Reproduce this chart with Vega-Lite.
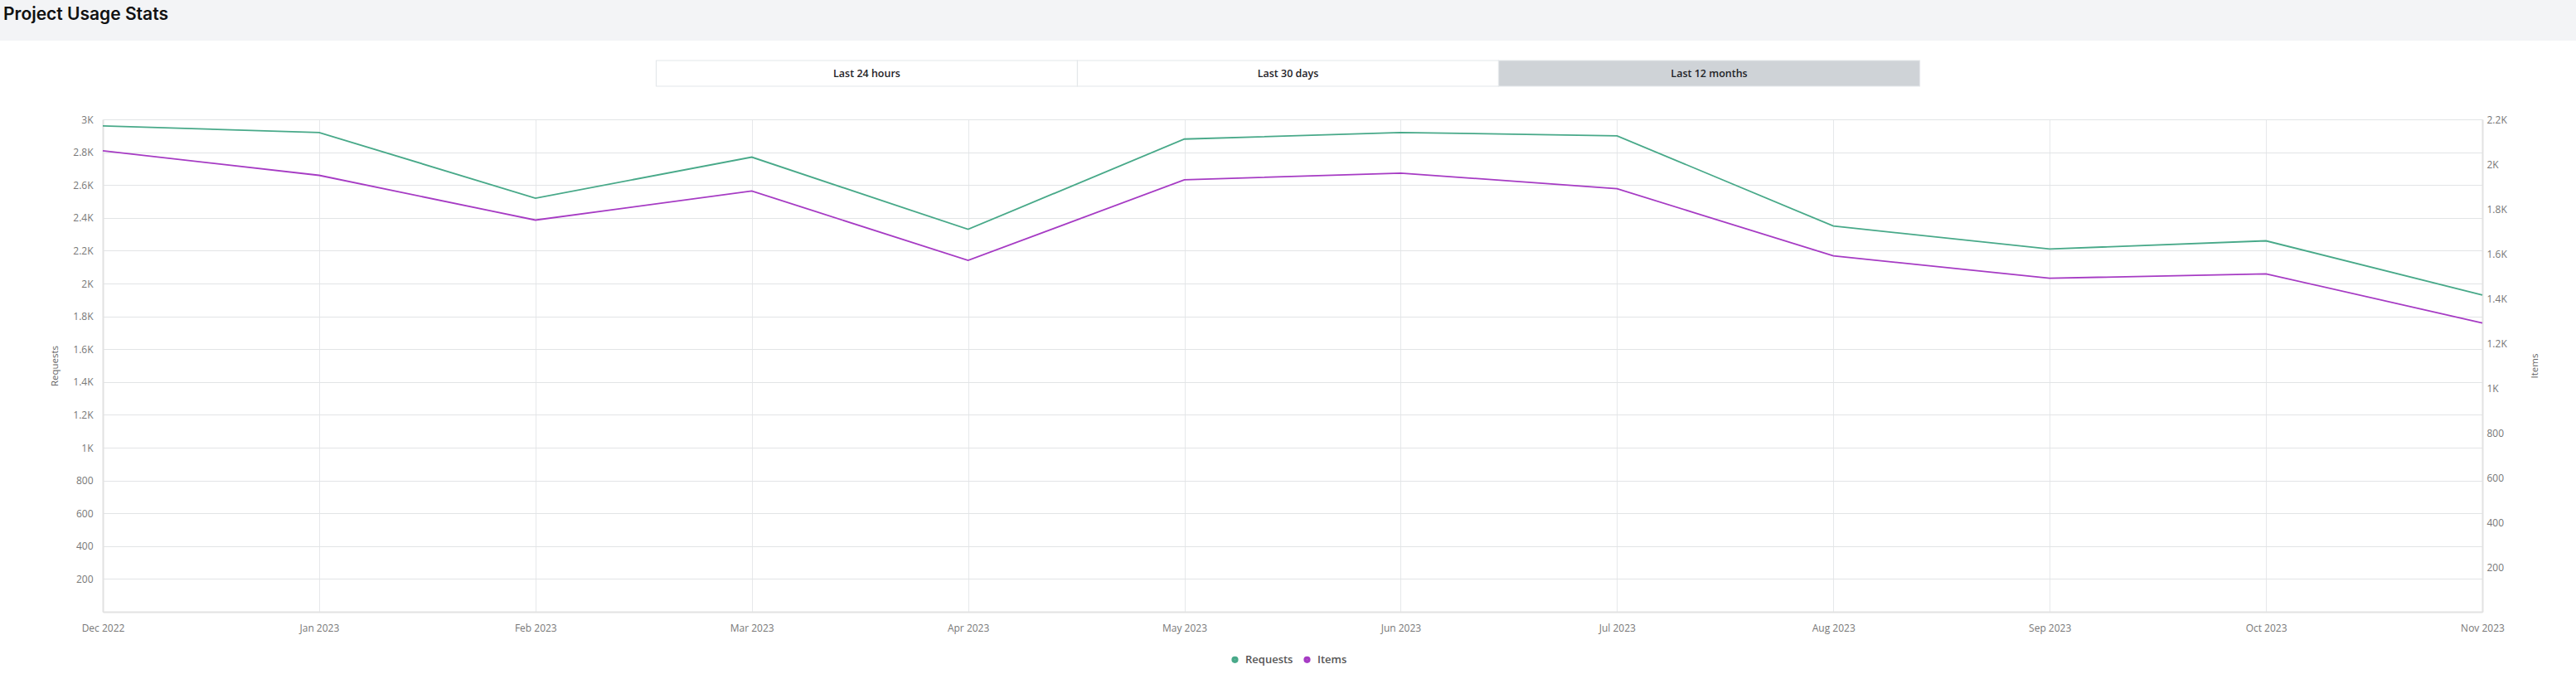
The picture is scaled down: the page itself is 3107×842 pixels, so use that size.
{
  "$schema": "https://vega.github.io/schema/vega-lite/v6.json",
  "background": "white",
  "padding": 0,
  "spacing": 0,
  "config": {
    "font": "Open Sans",
    "view": {"stroke": null},
    "concat": {"spacing": 0}
  },
  "vconcat": [
    {
      "width": 3107,
      "height": 49,
      "view": {"fill": "#f3f4f6", "stroke": null},
      "data": {"values": [{"title": "Project Usage Stats", "pos": 0}]},
      "mark": {"type": "text", "align": "left", "baseline": "alphabetic", "font": "Inter", "fontSize": 21, "fontWeight": 600, "color": "#111111", "dx": 4, "dy": -1},
      "encoding": {
        "x": {"field": "pos", "type": "quantitative", "scale": {"domain": [0, 1]}, "axis": null},
        "text": {"field": "title"}
      }
    },
    {
      "width": 3107,
      "height": 89,
      "data": {"values": [
        {"label": "Last 24 hours", "sel": "no", "row": "r"},
        {"label": "Last 30 days", "sel": "no", "row": "r"},
        {"label": "Last 12 months", "sel": "yes", "row": "r"}
      ]},
      "encoding": {
        "x": {"field": "label", "type": "nominal", "sort": null, "scale": {"type": "band", "domain": ["pad1", "Last 24 hours", "Last 30 days", "Last 12 months", "pad2"], "paddingInner": 0, "paddingOuter": 0.558}, "axis": null},
        "y": {"field": "row", "type": "nominal", "scale": {"type": "band", "paddingInner": 0, "paddingOuter": 0.935, "align": 0.414}, "axis": null}
      },
      "layer": [
        {
          "mark": {"type": "rect", "stroke": "#e4e7ea", "strokeWidth": 1.2},
          "encoding": {
            "fill": {"field": "sel", "type": "nominal", "scale": {"domain": ["no", "yes"], "range": ["#ffffff", "#cfd3d7"]}, "legend": null}
          }
        },
        {
          "mark": {"type": "text", "fontSize": 12.5, "fontWeight": 600, "color": "#1f2328"},
          "encoding": {"text": {"field": "label"}}
        }
      ]
    },
    {
      "hconcat": [
        {
          "width": 60,
          "height": 10,
          "data": {"values": []},
          "mark": "point"
        },
        {
          "width": 2870,
          "height": 594,
          "data": {"values": [
            {"month": "Dec 2022", "Requests": 2960, "Items": 2060},
            {"month": "Jan 2023", "Requests": 2920, "Items": 1950},
            {"month": "Feb 2023", "Requests": 2520, "Items": 1750},
            {"month": "Mar 2023", "Requests": 2770, "Items": 1880},
            {"month": "Apr 2023", "Requests": 2330, "Items": 1570},
            {"month": "May 2023", "Requests": 2880, "Items": 1930},
            {"month": "Jun 2023", "Requests": 2920, "Items": 1960},
            {"month": "Jul 2023", "Requests": 2900, "Items": 1890},
            {"month": "Aug 2023", "Requests": 2350, "Items": 1590},
            {"month": "Sep 2023", "Requests": 2210, "Items": 1490},
            {"month": "Oct 2023", "Requests": 2260, "Items": 1510},
            {"month": "Nov 2023", "Requests": 1930, "Items": 1290}
          ]},
          "encoding": {
            "x": {
              "field": "month", "type": "ordinal", "sort": null,
              "scale": {"type": "point", "padding": 0},
              "title": null,
              "axis": {
                "labelAngle": 0, "labelFontSize": 12, "labelColor": "#777777", "labelPadding": 14,
                "ticks": false, "domainColor": "#e2e2e2", "domainWidth": 2,
                "grid": true, "gridColor": "#e6e8ea", "gridWidth": 1
              }
            }
          },
          "layer": [
            {
              "mark": {"type": "line", "strokeWidth": 1.8},
              "encoding": {
                "y": {
                  "field": "Requests", "type": "quantitative",
                  "scale": {"domain": [0, 3000], "nice": false},
                  "title": "Requests",
                  "axis": {
                    "orient": "left",
                    "values": [0, 200, 400, 600, 800, 1000, 1200, 1400, 1600, 1800, 2000, 2200, 2400, 2600, 2800, 3000],
                    "labelExpr": "datum.value == 0 ? '' : (datum.value >= 1000 ? format(datum.value / 1000, '.1~f') + 'K' : format(datum.value, 'd'))",
                    "labelFontSize": 12, "labelColor": "#777777", "labelPadding": 12,
                    "ticks": false, "domainColor": "#e2e2e2", "domainWidth": 2,
                    "grid": true, "gridColor": "#e2e4e6", "gridWidth": 1.2,
                    "titleFontSize": 11.5, "titleFontWeight": "normal", "titleColor": "#666666", "titlePadding": 16
                  }
                },
                "color": {
                  "datum": "Requests", "type": "nominal",
                  "scale": {"domain": ["Requests", "Items"], "range": ["#48a989", "#a63bc4"]},
                  "legend": {
                    "orient": "none", "legendX": 1483, "legendY": 789, "direction": "horizontal", "title": null,
                    "symbolType": "circle", "symbolSize": 14, "symbolStrokeWidth": 4.5,
                    "labelFontSize": 13, "labelFontWeight": 600, "labelColor": "#555555",
                    "columnPadding": 5, "symbolOffset": 0, "labelOffset": 6
                  }
                }
              }
            },
            {
              "mark": {"type": "line", "strokeWidth": 1.8},
              "encoding": {
                "y": {
                  "field": "Items", "type": "quantitative",
                  "scale": {"domain": [0, 2200], "nice": false},
                  "title": "Items",
                  "axis": {
                    "orient": "right",
                    "values": [0, 200, 400, 600, 800, 1000, 1200, 1400, 1600, 1800, 2000, 2200],
                    "labelExpr": "datum.value == 0 ? '' : (datum.value >= 1000 ? format(datum.value / 1000, '.1~f') + 'K' : format(datum.value, 'd'))",
                    "labelFontSize": 12, "labelColor": "#777777", "labelPadding": 5,
                    "ticks": false, "domainColor": "#e2e2e2", "domainWidth": 2,
                    "grid": false,
                    "titleAngle": 270, "titleBaseline": "top",
                    "titleFontSize": 11.5, "titleFontWeight": "normal", "titleColor": "#666666", "titlePadding": 28
                  }
                },
                "color": {"datum": "Items", "type": "nominal"}
              }
            }
          ],
          "resolve": {"scale": {"y": "independent"}}
        }
      ]
    }
  ],
  "resolve": {"scale": {"color": "shared"}}
}
